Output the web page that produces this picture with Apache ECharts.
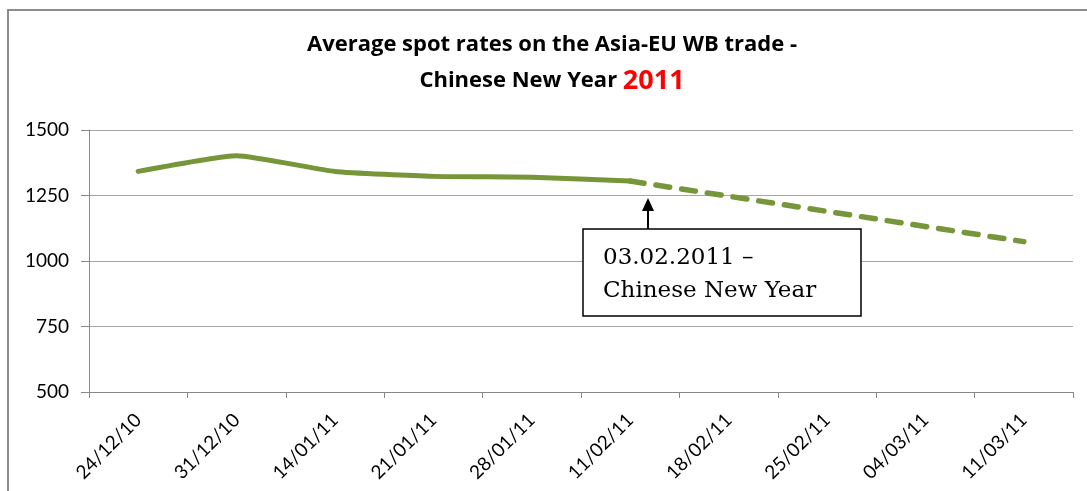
<!DOCTYPE html>
<html>
<head>
<meta charset="utf-8">
<script src="https://cdn.jsdelivr.net/npm/echarts@6/dist/echarts.min.js"></script>
<style>html,body{margin:0;padding:0;background:#fff;}#c{width:1087px;height:491px;}</style>
</head>
<body>
<div id="c"></div>
<script>
const categories = ['24/12/10','31/12/10','14/01/11','21/01/11','28/01/11','11/02/11','18/02/11','25/02/11','04/03/11','11/03/11'];
const actualRates = [1342, 1402, 1342, 1323, 1320, 1305, null, null, null, null];
const forecastRates = [null, null, null, null, null, 1305, null, null, null, 1074];
const yTicks = [500, 750, 1000, 1250, 1500];
const titleLine1 = 'Average spot rates on the Asia-EU WB trade -';
const titleLine2 = 'Chinese New Year ';
const titleYear = '2011';
const noteLines = ['03.02.2011 –', 'Chinese New Year'];

const chart = echarts.init(document.getElementById('c'), null, {renderer: 'canvas'});
const green = '#779539';
const font = 'Lato, "Open Sans", sans-serif';
const titleFont = '"Open Sans", Lato, sans-serif';

chart.setOption({
  animation: false,
  backgroundColor: '#fff',
  title: {
    text: '{a|' + titleLine1 + '}\n{b|' + titleLine2 + '}{c|' + titleYear + '}',
    left: 552,
    top: 27,
    textAlign: 'center',
    padding: 0,
    textStyle: {
      rich: {
        a: {fontFamily: titleFont, fontWeight: 'bold', fontSize: 22, color: '#000', lineHeight: 36},
        b: {fontFamily: titleFont, fontWeight: 'bold', fontSize: 22, color: '#000', lineHeight: 36},
        c: {fontFamily: titleFont, fontWeight: 'bold', fontSize: 27, color: '#ff0000', lineHeight: 36}
      }
    }
  },
  grid: {left: 89, right: 14, top: 130, bottom: 99, containLabel: false},
  xAxis: {
    type: 'category',
    data: categories,
    boundaryGap: true,
    axisLine: {show: true, lineStyle: {color: '#888', width: 1}},
    axisTick: {show: true, length: 6, lineStyle: {color: '#888'}},
    axisLabel: {rotate: 45, margin: 25, fontFamily: font, fontSize: 19, color: '#000', interval: 0},
    splitLine: {show: false}
  },
  yAxis: {
    type: 'value',
    min: yTicks[0],
    max: yTicks[yTicks.length - 1],
    interval: 250,
    axisLine: {show: true, lineStyle: {color: '#888', width: 1}},
    axisTick: {show: true, length: 8, lineStyle: {color: '#888'}},
    axisLabel: {margin: 20, fontFamily: font, fontSize: 19, color: '#000', formatter: v => String(v)},
    splitLine: {show: true, lineStyle: {color: '#a6a6a6', width: 1}}
  },
  series: [
    {
      type: 'line',
      data: actualRates,
      symbol: 'none',
      smooth: 0.15,
      lineStyle: {color: green, width: 5, cap: 'round', join: 'round'},
      z: 3
    },
    {
      type: 'line',
      data: forecastRates,
      connectNulls: true,
      symbol: 'none',
      lineStyle: {color: green, width: 5.5, type: [14, 12], cap: 'round'},
      z: 3
    }
  ],
  graphic: [
    {
      type: 'rect',
      shape: {x: 8, y: 10, width: 1200, height: 600},
      style: {fill: 'none', stroke: '#8c8c8c', lineWidth: 2},
      silent: true, z: 0
    },
    {
      type: 'line',
      shape: {x1: 648, y1: 229, x2: 648, y2: 210},
      style: {stroke: '#000', lineWidth: 2},
      z: 10
    },
    {
      type: 'polygon',
      shape: {points: [[648, 198], [642, 211], [654, 211]]},
      style: {fill: '#000'},
      z: 10
    },
    {
      type: 'rect',
      shape: {x: 583, y: 229, width: 278, height: 87},
      style: {fill: '#fff', stroke: '#000', lineWidth: 1.5},
      z: 10
    },
    {
      type: 'text',
      x: 603, y: 242,
      style: {
        text: noteLines.join('\n'),
        fontFamily: '"DejaVu Serif", "Liberation Serif", serif',
        fontSize: 23,
        lineHeight: 33,
        fill: '#000'
      },
      z: 11
    }
  ]
});
</script>
</body>
</html>
